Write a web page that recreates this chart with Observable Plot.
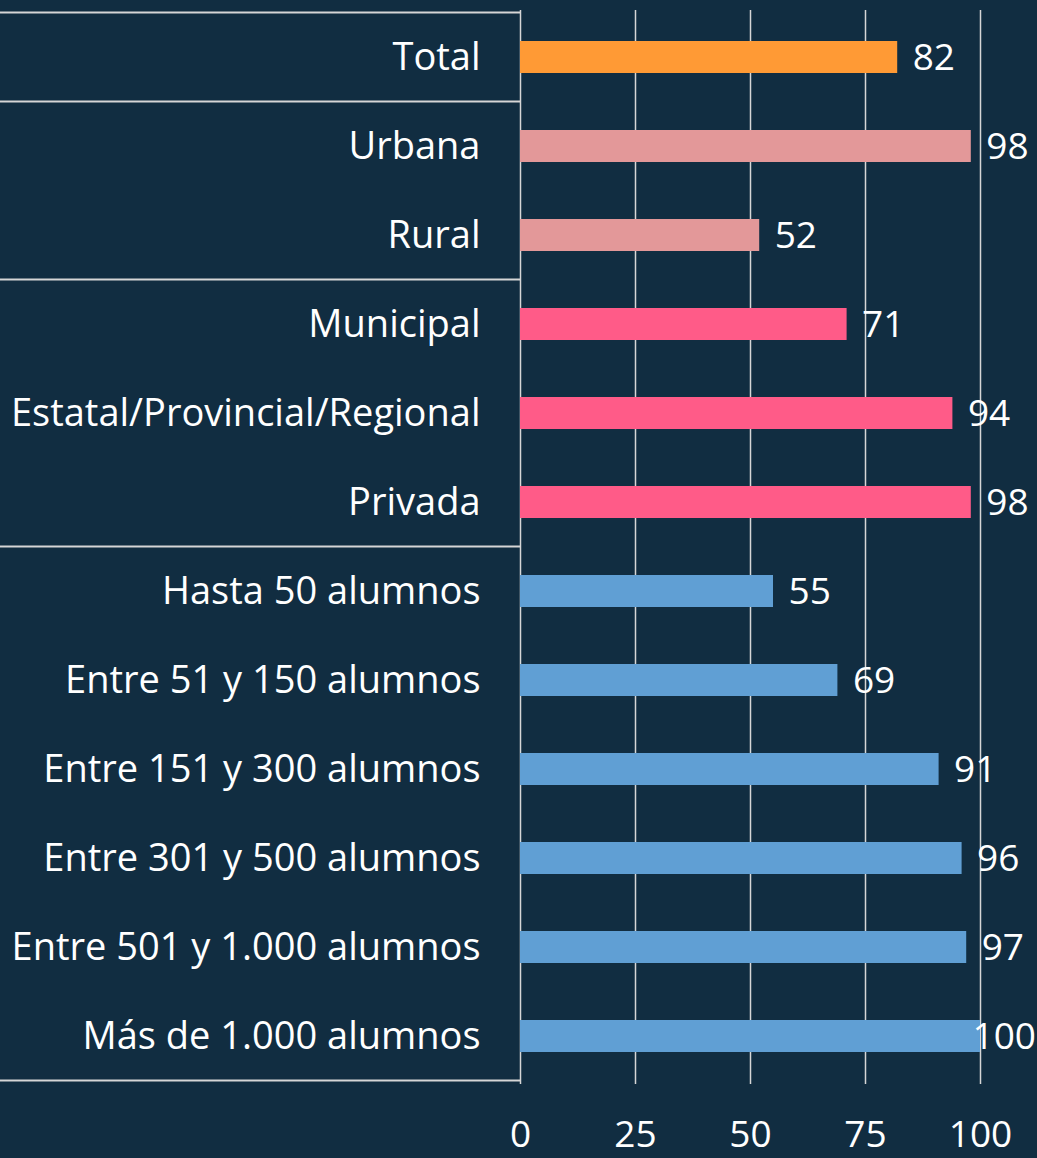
<!DOCTYPE html>
<html><head><meta charset="utf-8">
<script src="https://cdn.jsdelivr.net/npm/d3@7"></script>
<script src="https://cdn.jsdelivr.net/npm/@observablehq/plot@0.6"></script>
<style>
html,body{margin:0;padding:0;background:#112d41;}
#chart{width:1037px;height:1158px;overflow:hidden;}
</style></head><body><div id="chart"></div>
<script>
const categories = ["Total","Urbana","Rural","Municipal","Estatal/Provincial/Regional","Privada","Hasta 50 alumnos","Entre 51 y 150 alumnos","Entre 151 y 300 alumnos","Entre 301 y 500 alumnos","Entre 501 y 1.000 alumnos","Más de 1.000 alumnos"];
const values = [82,98,52,71,94,98,55,69,91,96,97,100];
const groups = ["total","area","area","dependencia","dependencia","dependencia","tamano","tamano","tamano","tamano","tamano","tamano"];
const groupKeys = ["total","area","dependencia","tamano"];
const groupColors = ["#ff9a35","#e39899","#ff5b88","#609fd4"];
const xTicks = [0,25,50,75,100];

const data = categories.map((c,i)=>({category:c, value:values[i], group:groups[i]}));
const W = 1037, H = 1158;
const bg = "#112d41", lineColor = "#d6d6d6";

const plot = Plot.plot({
  width: W, height: H,
  marginLeft: 520, marginRight: 57, marginTop: 10, marginBottom: 74,
  style: {background: bg, color: "white", fontFamily: "'Open Sans', sans-serif", fontSize: "37px"},
  x: {domain: [0,100]},
  y: {domain: categories, paddingInner: 0.64, paddingOuter: 0.32},
  color: {domain: groupKeys, range: groupColors},
  marks: [
    Plot.gridX({ticks: xTicks, stroke: lineColor, strokeOpacity: 1, strokeWidth: 1.5}),
    Plot.barX(data, {y: "category", x: "value", fill: "group"}),
    Plot.text(data, {filter: d => d.value < 100, y: "category", x: "value", text: d => String(d.value), textAnchor: "start", dx: 15, dy: 1, fill: "white", fontSize: 37}),
    Plot.text(data, {filter: d => d.value >= 100, y: "category", x: "value", text: d => String(d.value), textAnchor: "start", dx: -8, dy: 1, fill: "white", fontSize: 37}),
    Plot.axisY({tickSize: 0, tickPadding: 40, fontSize: 38, label: null}),
    Plot.axisX({ticks: xTicks, tickSize: 0, tickPadding: 36, fontSize: 37, label: null})
  ]
});

// group separators in the label table
const ys = plot.scale("y");
const half = (ys.step - ys.bandwidth) / 2;
const bounds = [];
categories.forEach((c,i)=>{
  if (i === 0 || groups[i] !== groups[i-1]) bounds.push(ys.apply(c) - half);
});
bounds.push(ys.apply(categories[categories.length-1]) + ys.bandwidth + half);
const g = d3.select(plot).append("g").attr("stroke", lineColor).attr("stroke-width", 2);
bounds.forEach(yv => g.append("line").attr("x1", 0).attr("x2", 520).attr("y1", yv).attr("y2", yv));

document.getElementById("chart").appendChild(plot);
</script></body></html>
